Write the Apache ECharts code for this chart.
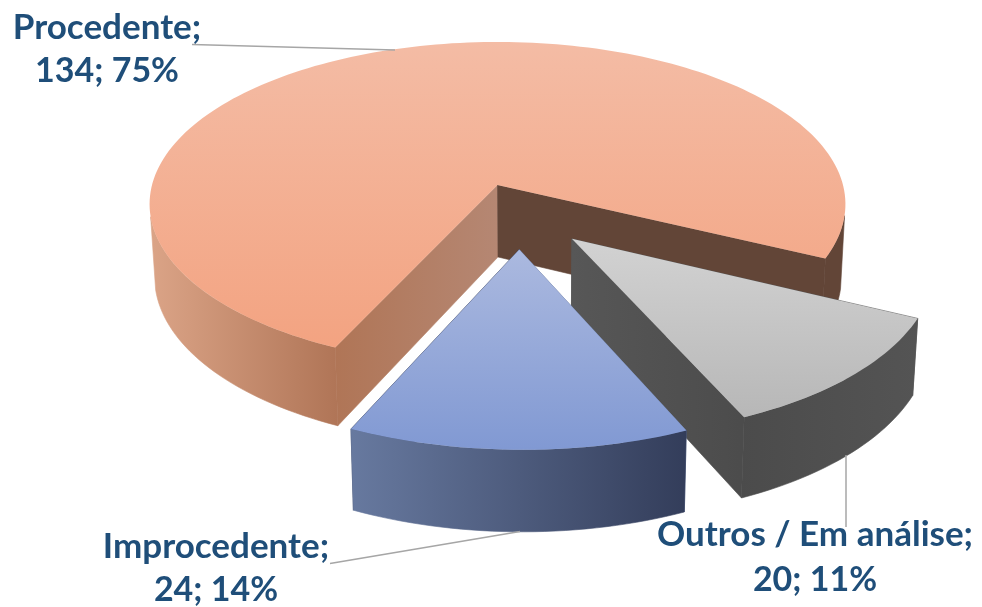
<!DOCTYPE html>
<html><head><meta charset="utf-8">
<style>html,body{margin:0;padding:0;background:#fff}#c{width:982px;height:607px}</style>
<script src="https://cdn.jsdelivr.net/npm/echarts@6/dist/echarts.min.js"></script>
</head><body><div id="c"></div>
<script>
const categories = ['Procedente', 'Outros / Em análise', 'Improcedente'];
const values = [134, 20, 24];
const percents = [75, 11, 14];

const FIRST_ANGLE = 204.8;
const TOP = {cx: 497.5, cy: 185, R: 345.5, S: 159.9};
const BOT = {cx: 498, cy: 257, R: 341, S: 166};
const K = 0.118;
const EXPLODE = [[0, 0], [0.207, 0.324], [0.06, 0.385]];
const STYLE = [
  {top: ['#f4bca5', '#f3a381'], topY: [42, 348], outer: ['#dba487', '#b07557'], outerX: [149, 337],
   left: ['#b07556', '#b58773'], leftX: [334, 498], right: '#624537'},
  {top: ['#d2d2d2', '#b7b7b7'], topY: [240, 417], outer: ['#4b4b4b', '#545454'], outerX: [738, 917],
   left: ['#575757', '#4c4c4c'], leftX: [572, 740], right: '#555555'},
  {top: ['#abb9df', '#8199d3'], topY: [250, 449], outer: ['#67799f', '#333d5a'], outerX: [352, 688],
   left: ['#67799f', '#67799f'], leftX: [352, 521], right: '#333d5a'}
];
const LABELS = [
  {x: 107, y: 28, dy: 43, line: [[192, 44.5], [395, 50]]},
  {x: 815, y: 535, dy: 45, line: [[846, 455], [846, 527]]},
  {x: 216, y: 547, dy: 43, line: [[520, 531.5], [330, 563.5]]}
];

const total = values.reduce((a, b) => a + b, 0);
let acc = FIRST_ANGLE;
const ranges = values.map(v => { const s = acc; acc += v / total * 360; return [s, acc]; });

function proj(P, u, v) {
  const w = 1 - K * v;
  return [P.cx + P.R * u / w, P.cy + P.S * v / w];
}
function rim(P, i, a0, a1) {
  const pts = [], n = Math.max(1, Math.ceil(Math.abs(a1 - a0) / 1.5));
  for (let j = 0; j <= n; j++) {
    const t = (a0 + (a1 - a0) * j / n) * Math.PI / 180;
    pts.push(proj(P, EXPLODE[i][0] + Math.sin(t), EXPLODE[i][1] - Math.cos(t)));
  }
  return pts;
}
const grad = (x, y, x2, y2, c) => ({type: 'linear', x, y, x2, y2, global: true,
  colorStops: [{offset: 0, color: c[0]}, {offset: 1, color: c[1]}]});
const poly = (points, fill) => ({type: 'polygon', shape: {points}, style: {fill, stroke: null}, silent: true});
const wall = (points, fill) => ({type: 'polygon', shape: {points}, style: {fill, stroke: fill, lineWidth: 0.6}, silent: true});
const band = (i, a0, a1, fill) => wall(rim(TOP, i, a0, a1).concat(rim(BOT, i, a0, a1).reverse()), fill);

function renderItem(params, api) {
  const i = params.dataIndex, st = STYLE[i], r = ranges[i];
  const apexT = proj(TOP, EXPLODE[i][0], EXPLODE[i][1]);
  const apexB = proj(BOT, EXPLODE[i][0], EXPLODE[i][1]);
  const lab = LABELS[i];
  const children = [];
  const cornerT = a => rim(TOP, i, a, a)[0], cornerB = a => rim(BOT, i, a, a)[0];
  // inner walls (the one nearer the viewer drawn last)
  children.push(wall([apexT, cornerT(r[0]), cornerB(r[0]), apexB],
    i === 1 ? st.right : grad(st.leftX[0], 0, st.leftX[1], 0, st.left)));
  children.push(wall([apexT, cornerT(r[1]), cornerB(r[1]), apexB],
    i === 1 ? grad(st.leftX[0], 0, st.leftX[1], 0, st.left) : st.right));
  // outer wall
  const outerFill = grad(st.outerX[0], 0, st.outerX[1], 0, st.outer);
  if (i === 0) {
    children.push(band(i, r[0], r[0] + 54, outerFill));
    children.push(band(i, r[1] - 15, r[1], st.right));
  } else {
    children.push(band(i, r[0], r[1], outerFill));
  }
  // top
  children.push(poly([apexT].concat(rim(TOP, i, r[0], r[1])),
    grad(0, st.topY[0], 0, st.topY[1], st.top)));
  // leader + label
  children.push({type: 'polyline', shape: {points: lab.line}, silent: true,
    style: {stroke: '#a6a6a6', lineWidth: 1.5, fill: null}});
  children.push({type: 'text', silent: true, style: {text: categories[i] + ';', x: lab.x, y: lab.y,
    fill: '#1f4e79', font: 'bold 35px Lato', textAlign: 'center', textVerticalAlign: 'middle'}});
  children.push({type: 'text', silent: true, style: {text: api.value(0) + '; ' + percents[i] + '%', x: lab.x, y: lab.y + lab.dy,
    fill: '#1f4e79', font: 'bold 34px Lato', textAlign: 'center', textVerticalAlign: 'middle'}});
  return {type: 'group', children};
}

const chart = echarts.init(document.getElementById('c'), null, {renderer: 'canvas'});
chart.setOption({
  animation: false,
  backgroundColor: '#ffffff',
  series: [{
    type: 'custom',
    coordinateSystem: 'none',
    renderItem,
    encode: {value: 0, itemName: 1},
    data: values.map((v, i) => [v, categories[i]])
  }]
});
</script></body></html>
